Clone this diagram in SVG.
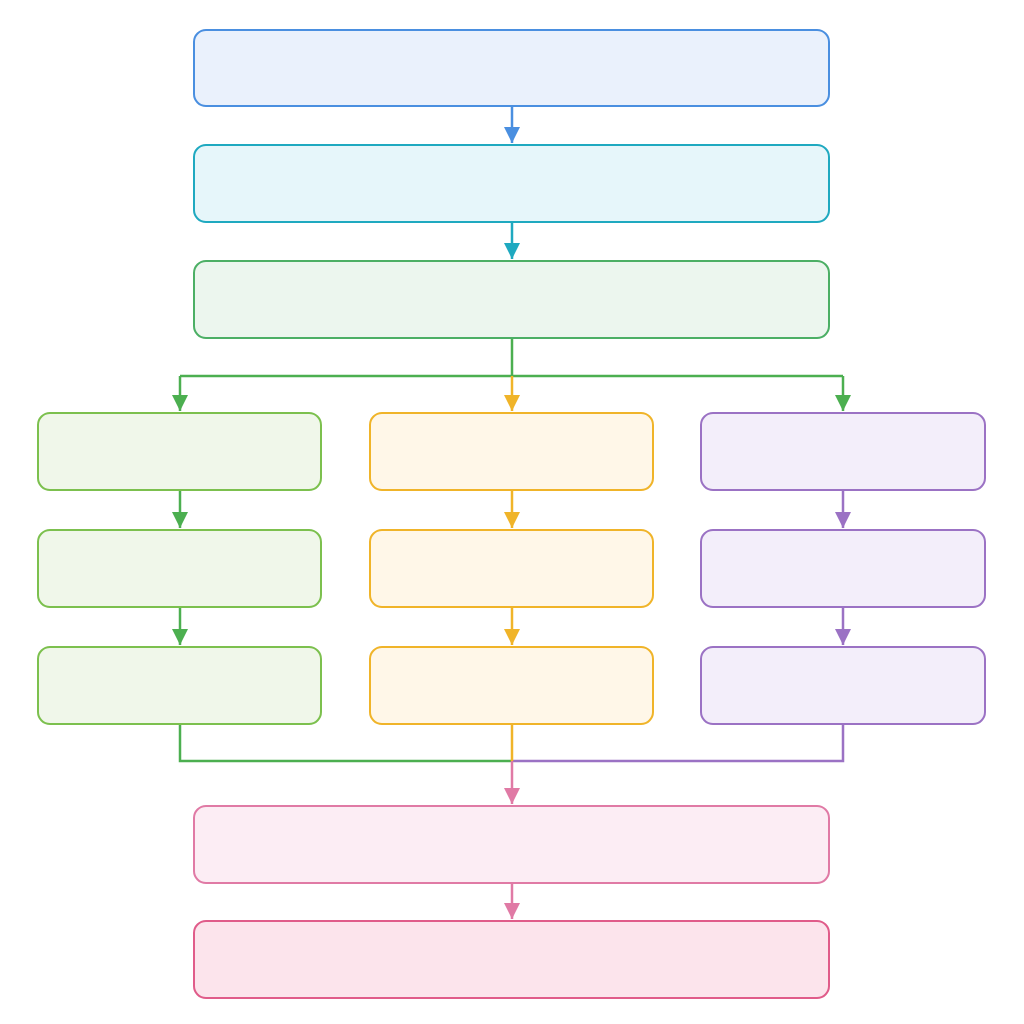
<svg xmlns="http://www.w3.org/2000/svg" width="1024" height="1024" viewBox="0 0 1024 1024">
<style>
.n{stroke-width:2}
.c{fill:none;stroke-width:2.5}
.blue{fill:#eaf1fc;stroke:#4a8fe0}
.cyan{fill:#e6f6fa;stroke:#1fa9c0}
.green{fill:#ecf6ee;stroke:#4caf65}
.lgreen{fill:#f0f7ea;stroke:#7cc04e}
.yellow{fill:#fff7e8;stroke:#f0b429}
.purple{fill:#f3eefa;stroke:#9b72c4}
.pink{fill:#fcedf4;stroke:#e07aa5}
.rose{fill:#fce4ec;stroke:#e05c8a}
</style>
<defs>
<marker id="aBlue" markerUnits="userSpaceOnUse" viewBox="0 0 16 16" refX="16" refY="8" markerWidth="16" markerHeight="16" orient="auto"><path d="M0,0L16,8L0,16z" fill="#4a8fe0"/></marker>
<marker id="aCyan" markerUnits="userSpaceOnUse" viewBox="0 0 16 16" refX="16" refY="8" markerWidth="16" markerHeight="16" orient="auto"><path d="M0,0L16,8L0,16z" fill="#1fa9c0"/></marker>
<marker id="aGreen" markerUnits="userSpaceOnUse" viewBox="0 0 16 16" refX="16" refY="8" markerWidth="16" markerHeight="16" orient="auto"><path d="M0,0L16,8L0,16z" fill="#4caf50"/></marker>
<marker id="aYellow" markerUnits="userSpaceOnUse" viewBox="0 0 16 16" refX="16" refY="8" markerWidth="16" markerHeight="16" orient="auto"><path d="M0,0L16,8L0,16z" fill="#f0b429"/></marker>
<marker id="aPurple" markerUnits="userSpaceOnUse" viewBox="0 0 16 16" refX="16" refY="8" markerWidth="16" markerHeight="16" orient="auto"><path d="M0,0L16,8L0,16z" fill="#9b72c4"/></marker>
<marker id="aPink" markerUnits="userSpaceOnUse" viewBox="0 0 16 16" refX="16" refY="8" markerWidth="16" markerHeight="16" orient="auto"><path d="M0,0L16,8L0,16z" fill="#e07aa5"/></marker>
</defs>
<rect width="1024" height="1024" fill="#ffffff"/>
<g id="connectors">
<path class="c" stroke="#4a8fe0" d="M512,106V143" marker-end="url(#aBlue)"/>
<path class="c" stroke="#1fa9c0" d="M512,222V259" marker-end="url(#aCyan)"/>
<path class="c" stroke="#4caf50" d="M512,338V376"/>
<path class="c" stroke="#4caf50" d="M180,376H843"/>
<path class="c" stroke="#4caf50" d="M180,376V411" marker-end="url(#aGreen)"/>
<path class="c" stroke="#4caf50" d="M843,376V411" marker-end="url(#aGreen)"/>
<path class="c" stroke="#f0b429" d="M512,376V411" marker-end="url(#aYellow)"/>
<path class="c" stroke="#4caf50" d="M180,490V528" marker-end="url(#aGreen)"/>
<path class="c" stroke="#4caf50" d="M180,607V645" marker-end="url(#aGreen)"/>
<path class="c" stroke="#f0b429" d="M512,490V528" marker-end="url(#aYellow)"/>
<path class="c" stroke="#f0b429" d="M512,607V645" marker-end="url(#aYellow)"/>
<path class="c" stroke="#9b72c4" d="M843,490V528" marker-end="url(#aPurple)"/>
<path class="c" stroke="#9b72c4" d="M843,607V645" marker-end="url(#aPurple)"/>
<path class="c" stroke="#4caf50" d="M180,724V761H512"/>
<path class="c" stroke="#9b72c4" d="M843,724V761H512"/>
<path class="c" stroke="#f0b429" d="M512,724V761"/>
<path class="c" stroke="#e07aa5" d="M512,761V804" marker-end="url(#aPink)"/>
<path class="c" stroke="#e07aa5" d="M512,883V919" marker-end="url(#aPink)"/>
</g>
<g id="n1"><rect class="n blue" x="194" y="30" width="635" height="76" rx="12"/></g>
<g id="n2"><rect class="n cyan" x="194" y="145" width="635" height="77" rx="12"/></g>
<g id="n3"><rect class="n green" x="194" y="261" width="635" height="77" rx="12"/></g>
<g id="l1"><rect class="n lgreen" x="38" y="413" width="283" height="77" rx="12"/></g>
<g id="l2"><rect class="n lgreen" x="38" y="530" width="283" height="77" rx="12"/></g>
<g id="l3"><rect class="n lgreen" x="38" y="647" width="283" height="77" rx="12"/></g>
<g id="m1"><rect class="n yellow" x="370" y="413" width="283" height="77" rx="12"/></g>
<g id="m2"><rect class="n yellow" x="370" y="530" width="283" height="77" rx="12"/></g>
<g id="m3"><rect class="n yellow" x="370" y="647" width="283" height="77" rx="12"/></g>
<g id="r1"><rect class="n purple" x="701" y="413" width="284" height="77" rx="12"/></g>
<g id="r2"><rect class="n purple" x="701" y="530" width="284" height="77" rx="12"/></g>
<g id="r3"><rect class="n purple" x="701" y="647" width="284" height="77" rx="12"/></g>
<g id="b1"><rect class="n pink" x="194" y="806" width="635" height="77" rx="12"/></g>
<g id="b2"><rect class="n rose" x="194" y="921" width="635" height="77" rx="12"/></g>
</svg>
